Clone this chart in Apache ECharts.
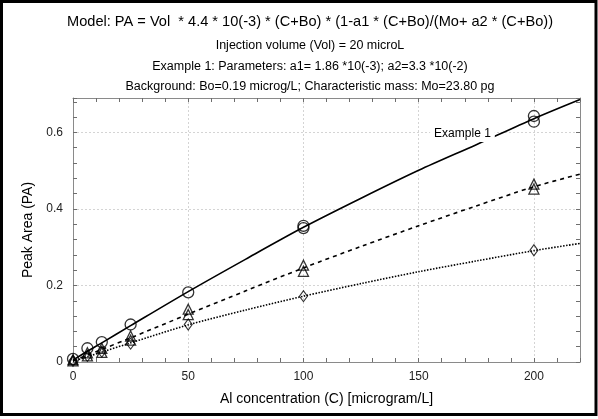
<!DOCTYPE html>
<html>
<head>
<meta charset="utf-8">
<script src="https://cdn.jsdelivr.net/npm/echarts@6/dist/echarts.min.js"></script>
<style>
html,body{margin:0;padding:0;background:#fff;}
#c{width:598px;height:419px;}
</style>
</head>
<body>
<div id="c"></div>
<script>
// ---- data ----
const titleLines = [
  'Model: PA = Vol  * 4.4 * 10(-3) * (C+Bo) * (1-a1 * (C+Bo)/(Mo+ a2 * (C+Bo))',
  'Injection volume (Vol) = 20 microL',
  'Example 1: Parameters: a1= 1.86 *10(-3); a2=3.3 *10(-2)',
  'Background: Bo=0.19 microg/L; Characteristic mass: Mo=23.80 pg'
];
const xAxisName = 'Al concentration (C) [microgram/L]';
const yAxisName = 'Peak Area (PA)';
const curveLabel = 'Example 1';
const curveLabelPos = [169, 0.596];

const circleX = [0, 6.25, 12.5, 25, 50, 100, 100, 200, 200];
const circleY = [0.008, 0.036, 0.052, 0.098, 0.182, 0.350, 0.356, 0.628, 0.643];

const triX = [0, 0, 6.25, 6.25, 12.5, 12.5, 25, 25, 50, 50, 100, 100, 200, 200];
const triY = [0.003, 0.006, 0.016, 0.024, 0.025, 0.036, 0.057, 0.068, 0.124, 0.138, 0.237, 0.253, 0.452, 0.465];

const diaX = [0, 6.25, 12.5, 25, 50, 100, 200];
const diaY = [0.003, 0.016, 0.027, 0.048, 0.098, 0.172, 0.292];

const curveX = [0, 6.25, 12.5, 25, 50, 75, 100, 125, 150, 175, 200, 220];
const solidY = [0.005, 0.028, 0.050, 0.095, 0.184, 0.269, 0.352, 0.428, 0.501, 0.568, 0.636, 0.686];
const dashY  = [0.003, 0.018, 0.033, 0.063, 0.125, 0.186, 0.246, 0.302, 0.356, 0.408, 0.458, 0.491];
const dotY   = [0.002, 0.014, 0.026, 0.050, 0.097, 0.136, 0.172, 0.205, 0.236, 0.264, 0.291, 0.310];

const xMin = 0, xMax = 220, xStep = 50;
const yMin = 0, yMax = 0.69, yStep = 0.2;

// ---- build ----
const zip = (a, b) => a.map((v, i) => [v, b[i]]);
const FONT = '"Liberation Sans", Arial, sans-serif';
const chart = echarts.init(document.getElementById('c'), null, {renderer: 'canvas'});

const tickStyle = {color: '#6e6e6e', width: 1};
const axisCommon = {
  axisLine: {show: true, onZero: false, lineStyle: {color: '#8a8a8a', width: 1}},
  axisTick: {show: true, inside: true, length: 4, lineStyle: tickStyle},
  minorTick: {show: true, splitNumber: 5, length: 4, lineStyle: tickStyle},
  minorSplitLine: {show: false}
};

const option = {
  animation: false,
  backgroundColor: '#fff',
  title: titleLines.map((t, i) => ({
    text: t,
    left: 305,
    textAlign: 'center',
    top: [9, 34, 55, 75][i],
    textStyle: {fontFamily: FONT, fontWeight: 'normal', color: '#000', fontSize: i === 0 ? 14.6 : 12.5}
  })),
  grid: {left: 73, right: 18, top: 98, bottom: 57},
  xAxis: [
    Object.assign({}, axisCommon, {
      type: 'value', position: 'bottom', min: xMin, max: xMax, interval: xStep,
      name: xAxisName, nameLocation: 'middle', nameGap: 30,
      nameTextStyle: {fontFamily: FONT, fontSize: 14, color: '#000'},
      axisLabel: {fontFamily: FONT, fontSize: 12, color: '#222', margin: 9,
        showMaxLabel: false, formatter: v => v},
      splitLine: {show: true, lineStyle: {color: '#d4d4d4', type: [2, 2], width: 1}}
    }),
    Object.assign({}, axisCommon, {
      type: 'value', position: 'top', min: xMin, max: xMax, interval: xStep,
      axisLabel: {show: false}, splitLine: {show: false}
    })
  ],
  yAxis: [
    Object.assign({}, axisCommon, {
      type: 'value', position: 'left', min: yMin, max: yMax, interval: yStep,
      name: yAxisName, nameLocation: 'middle', nameGap: 36, nameRotate: 90,
      nameTextStyle: {fontFamily: FONT, fontSize: 14, color: '#000'},
      axisLabel: {fontFamily: FONT, fontSize: 12, color: '#222', margin: 10,
        showMaxLabel: false, formatter: v => (v === 0 ? '0' : v.toFixed(1))},
      splitLine: {show: true, lineStyle: {color: '#d4d4d4', type: [2, 2], width: 1}}
    }),
    Object.assign({}, axisCommon, {
      type: 'value', position: 'right', min: yMin, max: yMax, interval: yStep,
      axisLabel: {show: false}, splitLine: {show: false}
    })
  ],
  series: [
    {
      type: 'line', data: zip(curveX, solidY), smooth: 0.3, symbol: 'none',
      lineStyle: {color: '#000', width: 1.6, type: 'solid'}, z: 3,
      markPoint: {
        symbol: 'rect', symbolSize: 0, silent: true,
        data: [{coord: curveLabelPos, value: curveLabel}],
        label: {show: true, formatter: curveLabel, position: 'inside',
          fontFamily: FONT, fontSize: 12, color: '#000',
          backgroundColor: '#fff', padding: [2, 4, 2, 4]}
      }
    },
    {
      type: 'line', data: zip(curveX, dashY), smooth: 0.3, symbol: 'none',
      lineStyle: {color: '#000', width: 1.6, type: [4, 4]}, z: 3
    },
    {
      type: 'line', data: zip(curveX, dotY), smooth: 0.3, symbol: 'none',
      lineStyle: {color: '#000', width: 1.6, type: [1.5, 1.5]}, z: 3
    },
    {
      type: 'scatter', data: zip(circleX, circleY), symbol: 'circle', symbolSize: 11, clip: false,
      itemStyle: {color: 'rgba(255,255,255,0)', borderColor: '#000', borderWidth: 1.3}, z: 4
    },
    {
      type: 'scatter', data: zip(triX, triY), symbol: 'triangle', symbolSize: 10, clip: false,
      itemStyle: {color: 'rgba(255,255,255,0)', borderColor: '#000', borderWidth: 1.3}, z: 4
    },
    {
      type: 'scatter', data: zip(diaX, diaY), symbol: 'diamond', symbolSize: [8, 11], clip: false,
      itemStyle: {color: 'rgba(255,255,255,0)', borderColor: '#000', borderWidth: 1.1}, z: 4
    }
  ],
  graphic: [{
    type: 'rect', silent: true, z: 100,
    shape: {x: 1.5, y: 1.5, width: 594.5, height: 413},
    style: {fill: 'none', stroke: '#000', lineWidth: 3}
  }]
};
chart.setOption(option);
</script>
</body>
</html>
